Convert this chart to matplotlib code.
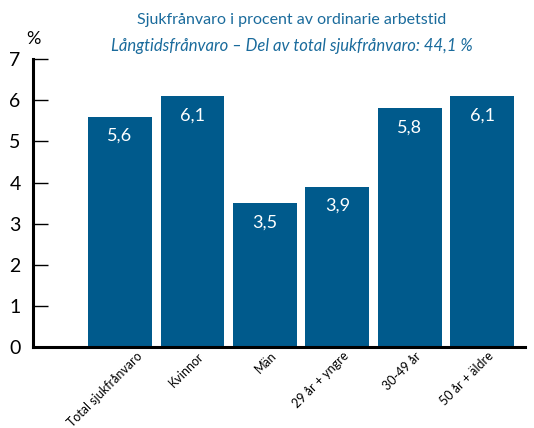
import numpy as np
import matplotlib.pyplot as plt
from matplotlib.transforms import ScaledTranslation

plt.rcParams['font.family'] = ['Lato', 'DejaVu Sans']

categories = ["Total sjukfrånvaro", "Kvinnor", "Män", "29 år + yngre", "30-49 år", "50 år + äldre"]
values = [5.6, 6.1, 3.5, 3.9, 5.8, 6.1]
value_labels = ["5,6", "6,1", "3,5", "3,9", "5,8", "6,1"]
yticks = [0, 1, 2, 3, 4, 5, 6, 7]

bar_color = "#005a8c"
title_color = "#1a6b9c"

fig = plt.figure(figsize=(5.34, 4.28), dpi=100)
ax = fig.add_axes([0.062, 0.189, 0.921, 0.673])

x = np.arange(len(categories))
bars = ax.bar(x, values, width=0.88, color=bar_color)

for xi, v, lab in zip(x, values, value_labels):
    ax.text(xi, v - 0.27, lab, ha='center', va='top', color='white', fontsize=13)

ax.set_xlim(-1.2, 5.59)
ax.set_ylim(0, 7)
ax.set_yticks(yticks)
ax.set_xticks(x)
ax.tick_params(axis='x', length=0, pad=2)
ax.tick_params(axis='y', direction='in', length=11, width=1, labelsize=14, pad=9)
ax.set_xticklabels(categories, rotation=45, ha='right', rotation_mode='anchor', fontsize=9)

# nudge the rotated labels a little to the right, the first one more
for i, lbl in enumerate(ax.get_xticklabels()):
    dx = 0.16 if i == 0 else 0.05
    lbl.set_transform(lbl.get_transform() + ScaledTranslation(dx, 0, fig.dpi_scale_trans))

ax.spines['top'].set_visible(False)
ax.spines['right'].set_visible(False)
ax.spines['left'].set_linewidth(2.2)
ax.spines['bottom'].set_linewidth(2.2)

fig.text(0.062, 0.91, "%", ha='center', va='center', fontsize=13)
fig.text(0.546, 0.953, "Sjukfrånvaro i procent av ordinarie arbetstid",
         ha='center', va='center', fontsize=11.5, color=title_color)
fig.text(0.546, 0.893, "Långtidsfrånvaro – Del av total sjukfrånvaro: 44,1 %",
         ha='center', va='center', fontsize=12, color=title_color, style='italic')

fig.savefig("out.png", dpi=100)
